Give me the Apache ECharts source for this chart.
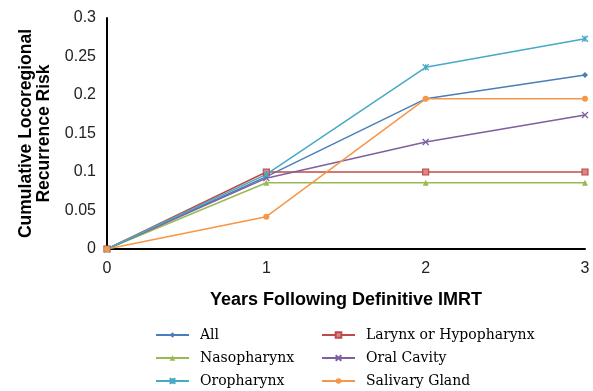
<!DOCTYPE html>
<html><head><meta charset="utf-8">
<script src="https://cdn.jsdelivr.net/npm/echarts@6/dist/echarts.min.js"></script>
<style>html,body{margin:0;padding:0;background:#fff}#c{width:593px;height:391px}</style>
</head><body><div id="c"></div>
<script>
var years = [0, 1, 2, 3];
var seriesNames = ['All', 'Larynx or Hypopharynx', 'Nasopharynx', 'Oral Cavity', 'Oropharynx', 'Salivary Gland'];
var allVals = [0, 0.094, 0.195, 0.226];
var larynxVals = [0, 0.100, 0.100, 0.100];
var nasoVals = [0, 0.086, 0.086, 0.086];
var oralVals = [0, 0.092, 0.139, 0.174];
var oroVals = [0, 0.097, 0.236, 0.273];
var salivaryVals = [0, 0.042, 0.195, 0.195];
var yTicks = [0, 0.05, 0.1, 0.15, 0.2, 0.25, 0.3];

var colors = ['#4a7ebb', '#be4b48', '#98b954', '#7d60a0', '#46aac5', '#f79646'];
var symbols = ['diamond', 'rect', 'triangle', 'path://M0,0L10,10M10,0L0,10', 'path://M0,0L10,10M10,0L0,10M5,0L5,10', 'circle'];
var sizes = [6, 6, 6, 6, 6, 6];
var valsList = [allVals, larynxVals, nasoVals, oralVals, oroVals, salivaryVals];

function mk(i) {
  var isPath = symbols[i].indexOf('path://') === 0;
  return {
    name: seriesNames[i], type: 'line',
    data: years.map(function (x, j) { return [x, valsList[i][j]]; }),
    symbol: symbols[i], symbolSize: sizes[i],
    showAllSymbol: true,
    lineStyle: { color: colors[i], width: 1.5 },
    itemStyle: isPath ? { color: 'none', borderColor: colors[i], borderWidth: 1.3 } :
      (i === 1 ? { color: '#d98a88', borderColor: colors[i], borderWidth: 1.2 } : { color: colors[i] }),
    emphasis: { disabled: true },
    animation: false
  };
}

var chart = echarts.init(document.getElementById('c'), null, { renderer: 'canvas' });
var legendText = { fontFamily: 'DejaVu Serif, Liberation Serif, serif', fontSize: 14, color: '#000', lineHeight: 16, padding: [0, 0, 0, 6] };
var sans = 'Liberation Sans, Arial, sans-serif';
chart.setOption({
  backgroundColor: '#fff',
  color: colors,
  grid: { left: 107, right: 8, top: 18, bottom: 142 },
  xAxis: {
    type: 'value', min: 0, max: 3, interval: 1,
    name: 'Years Following Definitive IMRT', nameLocation: 'middle', nameGap: 42,
    nameTextStyle: { fontFamily: sans, fontWeight: 'bold', fontSize: 18, color: '#000' },
    axisLine: { lineStyle: { color: '#000', width: 2 } },
    axisTick: { show: false },
    splitLine: { show: false },
    axisLabel: { fontFamily: sans, fontSize: 16, color: '#222', margin: 12 }
  },
  yAxis: {
    type: 'value', min: 0, max: 0.3, interval: 0.05,
    name: 'Cumulative Locoregional\nRecurrence Risk', nameLocation: 'middle', nameGap: 54,
    nameTextStyle: { fontFamily: sans, fontWeight: 'bold', fontSize: 17.5, color: '#000', lineHeight: 18 },
    axisLine: { show: true, lineStyle: { color: '#000', width: 2 } },
    axisTick: { show: false },
    splitLine: { show: false },
    axisLabel: {
      fontFamily: sans, fontSize: 16, color: '#222', margin: 11,
      formatter: function (v) {
        var s = yTicks.find(function (t) { return Math.abs(t - v) < 1e-9; });
        return s === undefined ? '' : String(+s.toFixed(2));
      }
    }
  },
  legend: [
    { data: ['All', 'Nasopharynx', 'Oropharynx'], orient: 'vertical', left: 155, top: 327, itemGap: 7, padding: 0,
      itemWidth: 33, itemHeight: 7, textStyle: legendText },
    { data: ['Larynx or Hypopharynx', 'Oral Cavity', 'Salivary Gland'], orient: 'vertical', left: 321, top: 327, itemGap: 7, padding: 0,
      itemWidth: 33, itemHeight: 7, textStyle: legendText }
  ],
  series: seriesNames.map(function (n, i) { return mk(i); })
});
</script></body></html>
